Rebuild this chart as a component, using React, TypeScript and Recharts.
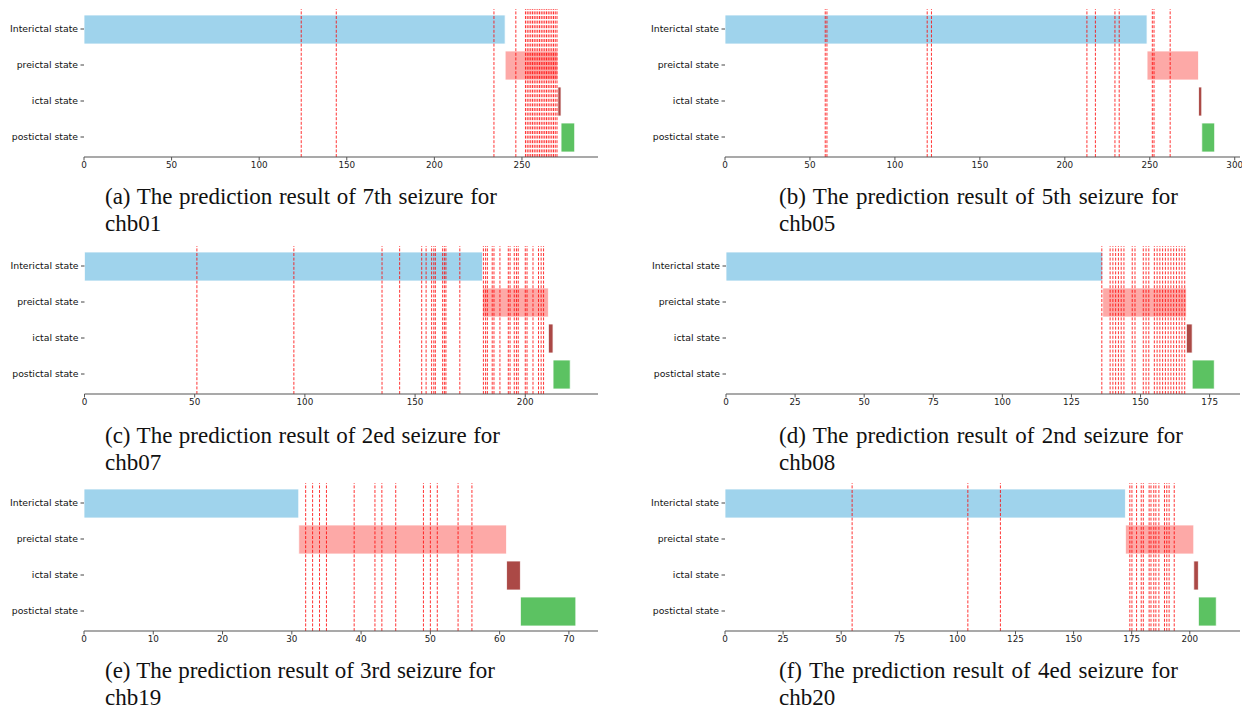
import React from 'react';
import { BarChart, Bar, XAxis, YAxis, Cell, ReferenceLine } from 'recharts';

const states = ['Interictal state', 'preictal state', 'ictal state', 'postictal state'];
const stateColors = ['#9fd3ec', '#fda9a7', '#ab4946', '#5cc262'];

// (a) chb01, 7th seizure
const aBounds = [0, 240.4, 270.5, 272.3, 280.1];
const aLines = [124, 144, 234, 246.5, 252, 253, 254, 255, 256, 257, 258, 259, 260, 261, 262, 263, 264, 265, 266, 267, 268, 269, 270];
const aTicks = [0, 50, 100, 150, 200, 250];
const aMax = 293.4;

// (b) chb05, 5th seizure
const bBounds = [0, 248.4, 278.7, 280.6, 288.2];
const bLines = [59, 60, 119, 121.5, 213, 218, 229.5, 232, 251.5, 252.5, 262];
const bTicks = [0, 50, 100, 150, 200, 250, 300];
const bMax = 303.1;

// (c) chb07, 2ed seizure
const cBounds = [0, 180.6, 210.5, 212.6, 220.4];
const cLines = [51, 95, 135, 143, 153, 155, 157.5, 158.5, 159.2, 162.5, 163.3, 164, 170.3, 181, 182, 182.8, 185, 185.8, 188.5, 192.3, 193.1, 195, 196, 196.8, 200, 200.8, 203.5, 206, 207.2, 208.3];
const cTicks = [0, 50, 100, 150, 200];
const cMax = 233;

// (d) chb08, 2nd seizure
const dBounds = [0, 136.3, 166.6, 168.7, 176.7];
const dLines = [136, 139, 140, 141, 142, 143, 144, 147, 148, 151, 152, 153, 155, 156, 157, 158, 159, 160, 161, 162, 163, 164, 165, 166];
const dTicks = [0, 25, 50, 75, 100, 125, 150, 175];
const dMax = 186;

// (e) chb19, 3rd seizure
const eBounds = [0, 31, 61, 63, 71];
const eLines = [32, 33, 34, 35, 39, 42, 43, 45, 49, 50, 51, 54, 56];
const eTicks = [0, 10, 20, 30, 40, 50, 60, 70];
const eMax = 74.2;

// (f) chb20, 4ed seizure
const fBounds = [0, 172.3, 201.7, 203.7, 211.4];
const fLines = [54.7, 104.5, 118.5, 174.2, 175.1, 177.1, 179.1, 180, 182.5, 183.3, 184.5, 185.4, 186.7, 189.1, 190.1, 191.1, 193.3];
const fTicks = [0, 25, 50, 75, 100, 125, 150, 175, 200];
const fMax = 221.6;

const captions1 = [
  '(a) The prediction result of 7th seizure for',
  '(b) The prediction result of 5th seizure for',
  '(c) The prediction result of 2ed seizure for',
  '(d) The prediction result of 2nd seizure for',
  '(e) The prediction result of 3rd seizure for',
  '(f) The prediction result of 4ed seizure for',
];
const captions2 = ['chb01', 'chb05', 'chb07', 'chb08', 'chb19', 'chb20'];

type PanelProps = {
  left: number;
  top: number;
  width: number;
  yAxisWidth: number;
  bounds: number[];
  lines: number[];
  ticks: number[];
  max: number;
};

const YTick = (props: any) => {
  const { x, y, payload } = props;
  return (
    <text x={x} y={y} dy={3.3} textAnchor="end" fontSize={9.3} fontFamily="DejaVu Sans" fill="#111">
      {payload.value}
    </text>
  );
};

function Panel({ left, top, width, yAxisWidth, bounds, lines, ticks, max }: PanelProps) {
  const data = states.map((s, i) => ({ state: s, range: [bounds[i], bounds[i + 1]] }));
  return (
    <div style={{ position: 'absolute', left, top }}>
      <BarChart
        width={width}
        height={180}
        data={data}
        layout="vertical"
        margin={{ top: 9, right: 2, left: 0, bottom: 3 }}
        barSize={29}
      >
        <XAxis
          type="number"
          domain={[0, max]}
          ticks={ticks}
          allowDataOverflow
          interval={0}
          tickSize={3.5}
          tickMargin={1.5}
          height={20}
          tick={{ fontSize: 8.8, fill: '#222', fontFamily: 'DejaVu Sans' }}
          axisLine={{ stroke: '#555', strokeWidth: 1.2 }}
          tickLine={{ stroke: '#555' }}
        />
        <YAxis
          type="category"
          dataKey="state"
          width={yAxisWidth}
          axisLine={false}
          tickSize={3.5}
          tickMargin={2.5}
          padding={{ top: 2, bottom: 2 }}
          interval={0}
          tick={<YTick />}
          tickLine={{ stroke: '#444' }}
        />
        <Bar dataKey="range" isAnimationActive={false} stroke="#ffffff" strokeWidth={0.8}>
          {data.map((d, i) => (
            <Cell key={i} fill={stateColors[i]} />
          ))}
        </Bar>
        {lines.map((v, i) => (
          <ReferenceLine
            key={i}
            x={v}
            stroke="#ff0000"
            strokeOpacity={0.8}
            strokeDasharray="3 1.6"
            strokeWidth={1}
          />
        ))}
      </BarChart>
    </div>
  );
}

function Caption({ left, top, width, idx }: { left: number; top: number; width: number; idx: number }) {
  const base: React.CSSProperties = {
    position: 'absolute',
    left,
    fontFamily: '"Liberation Serif", "Times New Roman", serif',
    fontSize: 23,
    lineHeight: '26px',
    color: '#111',
    whiteSpace: 'nowrap',
  };
  return (
    <>
      <div style={{ ...base, top, width, textAlign: 'justify', textAlignLast: 'justify' }}>{captions1[idx]}</div>
      <div style={{ ...base, top: top + 26.5 }}>{captions2[idx]}</div>
    </>
  );
}

export default function App() {
  const rowTops = [0, 237, 474];
  const capTops = [184, 423, 658];
  return (
    <div style={{ position: 'absolute', left: 0, top: 0, width: 1250, height: 710, background: '#fff', overflow: 'hidden' }}>
      <Panel left={0} top={rowTops[0]} width={600} yAxisWidth={84} bounds={aBounds} lines={aLines} ticks={aTicks} max={aMax} />
      <Panel left={640} top={rowTops[0]} width={602} yAxisWidth={85} bounds={bBounds} lines={bLines} ticks={bTicks} max={bMax} />
      <Panel left={0} top={rowTops[1]} width={600} yAxisWidth={84.5} bounds={cBounds} lines={cLines} ticks={cTicks} max={cMax} />
      <Panel left={640} top={rowTops[1]} width={602} yAxisWidth={86} bounds={dBounds} lines={dLines} ticks={dTicks} max={dMax} />
      <Panel left={0} top={rowTops[2]} width={600} yAxisWidth={84} bounds={eBounds} lines={eLines} ticks={eTicks} max={eMax} />
      <Panel left={640} top={rowTops[2]} width={602} yAxisWidth={85} bounds={fBounds} lines={fLines} ticks={fTicks} max={fMax} />
      <Caption left={105} top={capTops[0]} width={392} idx={0} />
      <Caption left={779} top={capTops[0]} width={399} idx={1} />
      <Caption left={105} top={capTops[1]} width={395} idx={2} />
      <Caption left={779} top={capTops[1]} width={404} idx={3} />
      <Caption left={105} top={capTops[2]} width={390} idx={4} />
      <Caption left={779} top={capTops[2]} width={399} idx={5} />
    </div>
  );
}
